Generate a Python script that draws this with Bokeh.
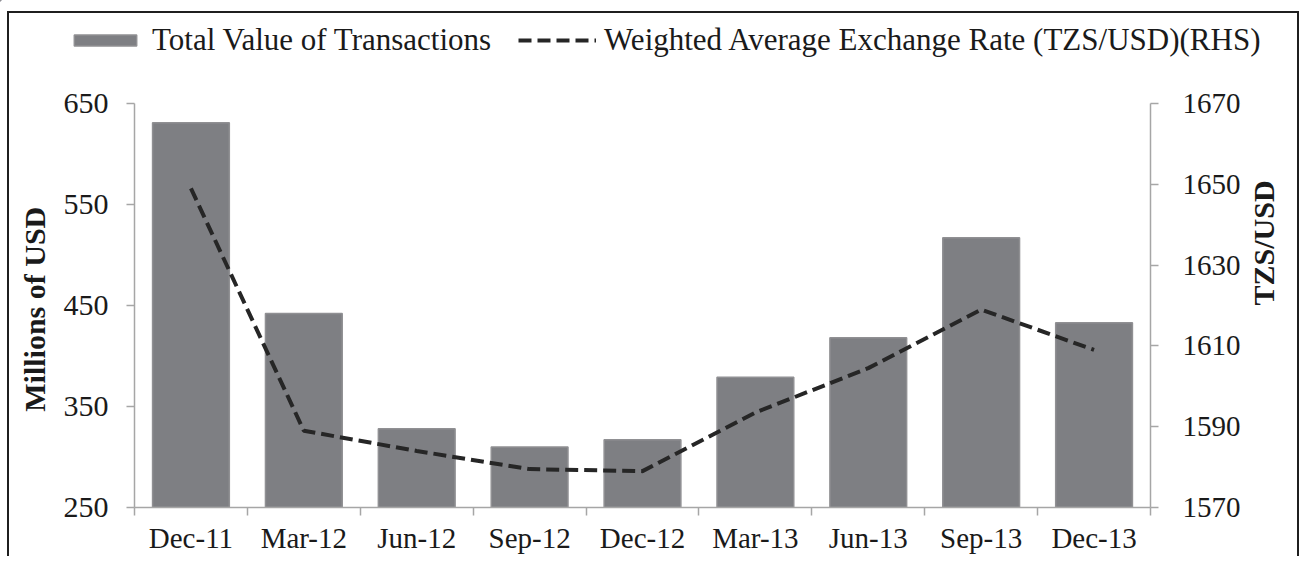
import math
from bokeh.plotting import figure
from bokeh.models import Range1d, LinearAxis, FixedTicker, Legend, LegendItem, ColumnDataSource
from bokeh.embed import file_html
from bokeh.resources import INLINE

categories = ["Dec-11", "Mar-12", "Jun-12", "Sep-12", "Dec-12", "Mar-13", "Jun-13", "Sep-13", "Dec-13"]
transactions = [631, 442, 328, 310, 317, 379, 418, 517, 433]
exchange_rate = [1649, 1589, 1584, 1579.5, 1579, 1593.5, 1604.5, 1619, 1609]
left_ticks = [250, 350, 450, 550, 650]
right_ticks = [1570, 1590, 1610, 1630, 1650, 1670]

FONT = "Liberation Serif"
AXIS_COLOR = "#a6a6a6"
TEXT_COLOR = "#1a1a1a"
BAR_FILL = "#7e7f83"
BAR_EDGE = "#909093"
LINE_COLOR = "#262626"
BOX = "#1f1f1f"

xs = list(range(len(categories)))
src = ColumnDataSource(dict(x=xs, cat=categories, val=transactions, rate=exchange_rate))

W = 1299
LEG_H = 70
MAIN_H = 556 - LEG_H

# ---------------- main chart ----------------
p = figure(width=W, height=MAIN_H, output_backend="svg", toolbar_location=None,
           x_range=Range1d(-0.5, len(categories) - 0.5),
           y_range=Range1d(left_ticks[0], left_ticks[-1]),
           min_border_left=134, min_border_right=146, min_border_top=103 - LEG_H, min_border_bottom=49)
p.extra_y_ranges = {"rate": Range1d(right_ticks[0], right_ticks[-1])}
p.border_fill_color = None
p.background_fill_color = "white"
p.outline_line_color = None
p.xgrid.visible = False
p.ygrid.visible = False
p.styles = {
    "background": f"linear-gradient({BOX},{BOX}) 7px 0/2px 100% no-repeat, "
                  f"linear-gradient({BOX},{BOX}) 100% 0/2px 100% no-repeat, #ffffff",
}

bars = p.vbar(x="x", top="val", bottom=left_ticks[0], width=0.68, source=src,
              fill_color=BAR_FILL, line_color=BAR_EDGE, line_width=1.5)
line = p.line(x="x", y="rate", source=src, y_range_name="rate",
              line_color=LINE_COLOR, line_width=4, line_dash="13 6")

def style_axis(ax, size="29px"):
    ax.axis_line_color = AXIS_COLOR
    ax.axis_line_width = 1.5
    ax.major_tick_line_color = AXIS_COLOR
    ax.major_tick_line_width = 1.5
    ax.major_tick_in = 0
    ax.major_tick_out = 8
    ax.minor_tick_in = 0
    ax.minor_tick_out = 0
    ax.major_label_text_font = FONT
    ax.major_label_text_font_size = size
    ax.major_label_text_color = TEXT_COLOR
    ax.axis_label_text_font = FONT
    ax.axis_label_text_font_size = "30px"
    ax.axis_label_text_font_style = "bold"
    ax.axis_label_text_color = TEXT_COLOR

ly = p.yaxis[0]
ly.ticker = FixedTicker(ticks=left_ticks)
style_axis(ly, "30px")
ly.major_label_standoff = 18
ly.axis_label = "Millions of  USD"
ly.axis_label_standoff = 10

ry = LinearAxis(y_range_name="rate", ticker=FixedTicker(ticks=right_ticks))
style_axis(ry, "29px")
ry.major_label_standoff = 24
ry.axis_label = "TZS/USD"
ry.axis_label_standoff = 20
ry.axis_label_orientation = math.pi / 2
ry.axis_label_text_align = "center"
p.add_layout(ry, "right")

bx = p.xaxis[0]
bx.ticker = FixedTicker(ticks=xs, minor_ticks=[i - 0.5 for i in range(len(categories) + 1)])
style_axis(bx, "29px")
bx.major_tick_out = 0
bx.minor_tick_out = 8
bx.minor_tick_line_color = AXIS_COLOR
bx.minor_tick_line_width = 1.5
bx.major_label_standoff = 6
bx.major_label_overrides = {i: c for i, c in enumerate(categories)}

# ---------------- legend strip (its frame covers the whole strip) ----------------
lf = figure(width=W, height=LEG_H, output_backend="svg", toolbar_location=None,
            x_range=Range1d(1000, 1001), y_range=Range1d(0, 1),
            x_axis_location=None, y_axis_location=None,
            min_border_left=0, min_border_right=0, min_border_top=0, min_border_bottom=0)
lf.border_fill_color = None
lf.background_fill_color = None
lf.outline_line_color = None
lf.xgrid.visible = False
lf.ygrid.visible = False
lf.styles = {
    "background": f"linear-gradient({BOX},{BOX}) 7px 11px/2px 100% no-repeat, "
                  f"linear-gradient({BOX},{BOX}) 7px 11px/100% 2px no-repeat, "
                  f"linear-gradient({BOX},{BOX}) 100% 11px/2px 100% no-repeat, #ffffff",
}
lbars = lf.vbar(x="x", top="val", bottom=left_ticks[0], width=0.68, source=src,
                fill_color=BAR_FILL, line_color=BAR_EDGE, line_width=1.5)
lline = lf.line(x="x", y="rate", source=src,
                line_color=LINE_COLOR, line_width=4, line_dash="13 6")

legend = Legend(items=[LegendItem(label="Total Value of Transactions", renderers=[lbars]),
                       LegendItem(label="Weighted Average Exchange Rate (TZS/USD)(RHS)", renderers=[lline])],
                location=(66, 12), orientation="horizontal",
                glyph_width=78, glyph_height=14, label_standoff=8, spacing=27,
                label_text_font=FONT, label_text_font_size="31px",
                label_text_color=TEXT_COLOR, border_line_color=None,
                background_fill_alpha=0, padding=0, margin=0)
lf.add_layout(legend, "center")

open("out.html", "w").write(file_html([lf, p], INLINE))
